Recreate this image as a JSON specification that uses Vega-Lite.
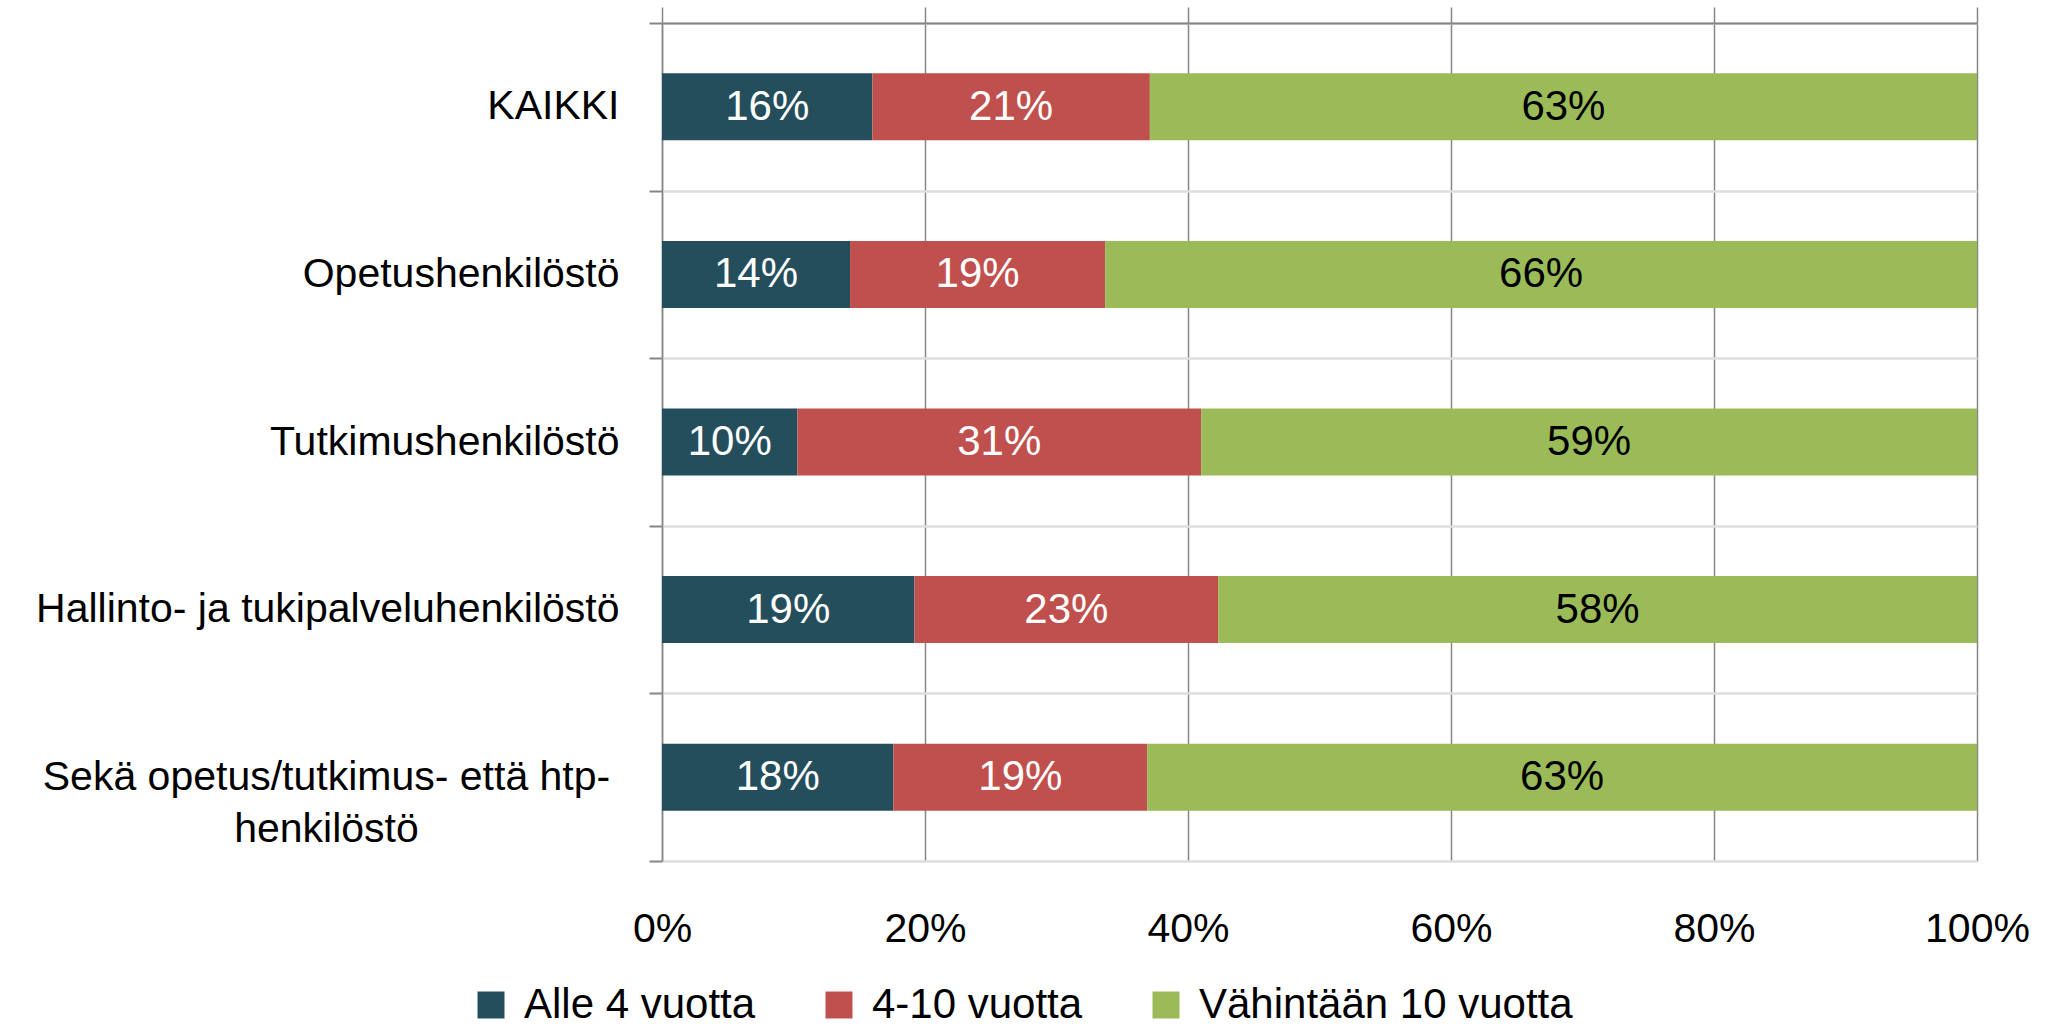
{
  "$schema": "https://vega.github.io/schema/vega-lite/v6.json",
  "width": 1315,
  "height": 838,
  "autosize": {"type": "none"},
  "padding": {"left": 662, "top": 23, "right": 79, "bottom": 166},
  "background": "white",
  "config": {"font": "Liberation Sans", "view": {"stroke": null}},
  "data": {
    "values": [
      {"cat": "KAIKKI", "grp": "Alle 4 vuotta", "ord": 1, "value": 0.160},
      {"cat": "KAIKKI", "grp": "4-10 vuotta", "ord": 2, "value": 0.211},
      {"cat": "KAIKKI", "grp": "Vähintään 10 vuotta", "ord": 3, "value": 0.629},
      {"cat": "Opetushenkilöstö", "grp": "Alle 4 vuotta", "ord": 1, "value": 0.143},
      {"cat": "Opetushenkilöstö", "grp": "4-10 vuotta", "ord": 2, "value": 0.194},
      {"cat": "Opetushenkilöstö", "grp": "Vähintään 10 vuotta", "ord": 3, "value": 0.663},
      {"cat": "Tutkimushenkilöstö", "grp": "Alle 4 vuotta", "ord": 1, "value": 0.103},
      {"cat": "Tutkimushenkilöstö", "grp": "4-10 vuotta", "ord": 2, "value": 0.307},
      {"cat": "Tutkimushenkilöstö", "grp": "Vähintään 10 vuotta", "ord": 3, "value": 0.590},
      {"cat": "Hallinto- ja tukipalveluhenkilöstö", "grp": "Alle 4 vuotta", "ord": 1, "value": 0.192},
      {"cat": "Hallinto- ja tukipalveluhenkilöstö", "grp": "4-10 vuotta", "ord": 2, "value": 0.231},
      {"cat": "Hallinto- ja tukipalveluhenkilöstö", "grp": "Vähintään 10 vuotta", "ord": 3, "value": 0.577},
      {"cat": "Sekä opetus/tutkimus- että htp-henkilöstö", "grp": "Alle 4 vuotta", "ord": 1, "value": 0.176},
      {"cat": "Sekä opetus/tutkimus- että htp-henkilöstö", "grp": "4-10 vuotta", "ord": 2, "value": 0.193},
      {"cat": "Sekä opetus/tutkimus- että htp-henkilöstö", "grp": "Vähintään 10 vuotta", "ord": 3, "value": 0.631}
    ]
  },
  "transform": [
    {"stack": "value", "groupby": ["cat"], "sort": [{"field": "ord", "order": "ascending"}], "as": ["v0", "v1"]},
    {"calculate": "(datum.v0 + datum.v1) / 2", "as": "mid"}
  ],
  "layer": [
    {
      "mark": {"type": "bar", "height": {"band": 0.4}},
      "encoding": {
        "y": {
          "field": "cat", "type": "nominal", "sort": null,
          "scale": {"paddingInner": 0, "paddingOuter": 0},
          "axis": {
            "title": null,
            "domain": true, "domainColor": "#868686", "domainWidth": 1.5,
            "ticks": true, "tickBand": "extent", "tickSize": 13, "tickColor": "#868686", "tickWidth": 2,
            "grid": true, "gridWidth": 2.5, "gridColor": "#DEDEDE",
            "labelFontSize": 41, "labelColor": "black", "labelLimit": 0,
            "labelLineHeight": 52,
            "labelAlign": {"condition": {"test": "datum.value === 'Sekä opetus/tutkimus- että htp-henkilöstö'", "value": "center"}, "value": "right"},
            "labelPadding": {"condition": {"test": "datum.value === 'Sekä opetus/tutkimus- että htp-henkilöstö'", "value": 323}, "value": 30},
            "labelExpr": "datum.value === 'Sekä opetus/tutkimus- että htp-henkilöstö' ? ['Sekä opetus/tutkimus- että htp-', 'henkilöstö'] : datum.value"
          }
        },
        "x": {
          "field": "v0", "type": "quantitative",
          "scale": {"domain": [0, 1], "nice": false},
          "axis": {
            "orient": "top", "title": null, "labels": false, "zindex": 1,
            "values": [0, 0.2, 0.4, 0.6, 0.8, 1],
            "domain": true, "domainColor": "#868686", "domainWidth": 2,
            "ticks": true, "tickSize": 16, "tickColor": "#868686", "tickWidth": 1.5,
            "grid": false
          }
        },
        "x2": {"field": "v1"},
        "color": {
          "field": "grp", "type": "nominal",
          "scale": {"domain": ["Alle 4 vuotta", "4-10 vuotta", "Vähintään 10 vuotta"], "range": ["#254E5C", "#C0504D", "#9BBB59"]},
          "legend": {
            "orient": "none", "legendX": -192, "legendY": 961,
            "direction": "horizontal", "title": null,
            "symbolType": "square", "symbolSize": 729, "symbolStrokeWidth": 0, "symbolOpacity": 1,
            "labelFontSize": 42, "labelColor": "black", "labelOffset": 12, "labelLimit": 0,
            "columnPadding": 62, "padding": 0
          }
        }
      }
    },
    {
      "mark": {"type": "text", "fontSize": 42, "align": "center", "baseline": "middle"},
      "encoding": {
        "y": {"field": "cat", "type": "nominal", "sort": null},
        "x": {
          "field": "mid", "type": "quantitative",
          "axis": {
            "orient": "bottom", "title": null, "format": ".0%", "zindex": 0,
            "values": [0, 0.2, 0.4, 0.6, 0.8, 1],
            "domain": false, "ticks": false, "tickSize": 0,
            "grid": true, "gridColor": "#868686", "gridWidth": 1.5,
            "labelFontSize": 41, "labelColor": "black", "labelPadding": 48, "labelFlush": false
          }
        },
        "text": {"field": "value", "type": "quantitative", "format": ".0%"},
        "color": {
          "condition": {"test": "datum.grp === 'Vähintään 10 vuotta'", "value": "black"},
          "value": "white"
        }
      }
    }
  ],
  "resolve": {"axis": {"x": "independent"}}
}
